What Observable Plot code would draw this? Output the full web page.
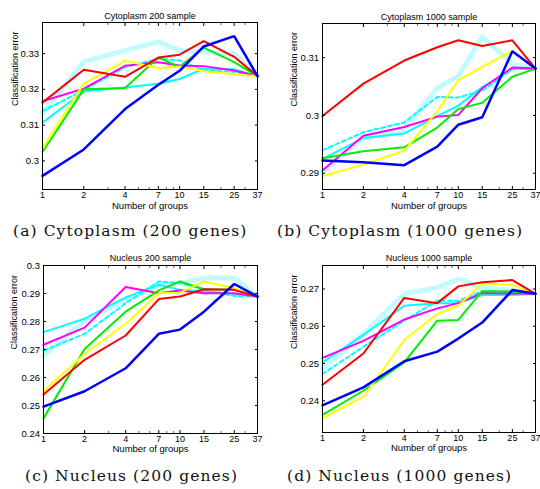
<!DOCTYPE html>
<html>
<head>
<meta charset="utf-8">
<script src="https://cdn.jsdelivr.net/npm/d3@7"></script>
<script src="https://cdn.jsdelivr.net/npm/@observablehq/plot@0.6"></script>
<style>
  html, body { margin: 0; padding: 0; background: #fff; }
  #page { position: relative; width: 540px; height: 489px; overflow: hidden; background: #fff; }
  .panel { position: absolute; }
  .cap { position: absolute; font-family: "DejaVu Serif", "Liberation Serif", serif; font-size: 15.5px; letter-spacing: 1.1px; color: #111; white-space: nowrap; }
</style>
</head>
<body>
<div id="page">
  <div class="panel" id="pa" style="left:0px;top:0px"></div>
  <div class="panel" id="pb" style="left:270px;top:0px"></div>
  <div class="panel" id="pc" style="left:0px;top:240px"></div>
  <div class="panel" id="pd" style="left:270px;top:240px"></div>
  <div class="cap" id="capA" style="left:13px;top:222px"></div>
  <div class="cap" id="capB" style="left:277px;top:222px"></div>
  <div class="cap" id="capC" style="left:25px;top:467px"></div>
  <div class="cap" id="capD" style="left:287px;top:467px"></div>
</div>
<script>
// ---------- data ----------
const groups = [1, 2, 4, 7, 10, 15, 25, 37];
const xTickLabels = ["1", "2", "4", "7", "10", "15", "25", "37"];
const minorTicks = [3, 5, 6, 8, 9, 20, 30];
const yLabel = "Classification error";
const xLabel = "Number of groups";
const panelTitles = ["Cytoplasm 200 sample", "Cytoplasm 1000 sample", "Nucleus 200 sample", "Nucleus 1000 sample"];
const captions = ["(a) Cytoplasm (200 genes)", "(b) Cytoplasm (1000 genes)", "(c) Nucleus (200 genes)", "(d) Nucleus (1000 genes)"];
const seriesNames = ["cyanDot", "cyanDash", "cyan", "magenta", "green", "yellow", "red", "blue"];

// (a) Cytoplasm 200
const cyto200Red     = [0.3163, 0.3255, 0.3235, 0.3289, 0.3297, 0.3335, 0.3291, 0.3237];
const cyto200Green   = [0.3025, 0.3200, 0.3204, 0.3289, 0.3263, 0.3317, 0.3276, 0.3237];
const cyto200Blue    = [0.2958, 0.3032, 0.3145, 0.3213, 0.3252, 0.3320, 0.3349, 0.3237];
const cyto200Yellow  = [0.3035, 0.3216, 0.3280, 0.3260, 0.3263, 0.3251, 0.3242, 0.3237];
const cyto200Magenta = [0.3167, 0.3202, 0.3266, 0.3276, 0.3267, 0.3265, 0.3253, 0.3237];
const cyto200Cyan    = [0.3107, 0.3194, 0.3205, 0.3216, 0.3229, 0.3258, 0.3256, 0.3237];
const cyto200CyanDash= [0.3139, 0.3198, 0.3262, 0.3286, 0.3281, 0.3253, 0.3249, 0.3237];
const cyto200CyanDot = [0.3133, 0.3277, 0.3309, 0.3333, 0.3309, 0.3305, 0.3300, 0.3237];
const cyto200YTicks  = [0.30, 0.31, 0.32, 0.33];

// (b) Cytoplasm 1000
const cyto1000Red     = [0.2999, 0.3055, 0.3095, 0.3118, 0.3130, 0.3120, 0.3130, 0.3081];
const cyto1000Green   = [0.2926, 0.2938, 0.2945, 0.2979, 0.3011, 0.3022, 0.3067, 0.3081];
const cyto1000Blue    = [0.2922, 0.2919, 0.2914, 0.2946, 0.2984, 0.2997, 0.3111, 0.3081];
const cyto1000Yellow  = [0.2895, 0.2915, 0.2939, 0.3007, 0.3061, 0.3084, 0.3111, 0.3081];
const cyto1000Magenta = [0.2905, 0.2965, 0.2980, 0.2998, 0.3001, 0.3047, 0.3083, 0.3081];
const cyto1000Cyan    = [0.2925, 0.2961, 0.2969, 0.2999, 0.3017, 0.3049, 0.3080, 0.3081];
const cyto1000CyanDash= [0.2940, 0.2971, 0.2988, 0.3032, 0.3031, 0.3043, 0.3080, 0.3081];
const cyto1000CyanDot = [0.2902, 0.2962, 0.2976, 0.3047, 0.3068, 0.3136, 0.3089, 0.3081];
const cyto1000YTicks  = [0.29, 0.30, 0.31];

// (c) Nucleus 200
const nuc200Red     = [0.2539, 0.2663, 0.2750, 0.2880, 0.2889, 0.2915, 0.2913, 0.2889];
const nuc200Green   = [0.2454, 0.2702, 0.2835, 0.2911, 0.2943, 0.2915, 0.2913, 0.2889];
const nuc200Blue    = [0.2496, 0.2551, 0.2633, 0.2756, 0.2771, 0.2835, 0.2934, 0.2889];
const nuc200Yellow  = [0.2551, 0.2684, 0.2792, 0.2901, 0.2903, 0.2943, 0.2919, 0.2889];
const nuc200Magenta = [0.2717, 0.2778, 0.2923, 0.2901, 0.2911, 0.2901, 0.2901, 0.2889];
const nuc200Cyan    = [0.2762, 0.2810, 0.2886, 0.2931, 0.2913, 0.2907, 0.2899, 0.2889];
const nuc200CyanDash= [0.2696, 0.2756, 0.2865, 0.2943, 0.2937, 0.2913, 0.2891, 0.2889];
const nuc200CyanDot = [0.2678, 0.2804, 0.2877, 0.2931, 0.2937, 0.2955, 0.2955, 0.2889];
const nuc200YTicks  = [0.24, 0.25, 0.26, 0.27, 0.28, 0.29, 0.30];

// (d) Nucleus 1000
const nuc1000Red     = [0.2443, 0.2527, 0.2676, 0.2662, 0.2707, 0.2718, 0.2724, 0.2687];
const nuc1000Green   = [0.2362, 0.2427, 0.2503, 0.2615, 0.2617, 0.2694, 0.2693, 0.2687];
const nuc1000Blue    = [0.2388, 0.2436, 0.2506, 0.2532, 0.2567, 0.2610, 0.2697, 0.2687];
const nuc1000Yellow  = [0.2353, 0.2411, 0.2563, 0.2633, 0.2655, 0.2715, 0.2711, 0.2687];
const nuc1000Magenta = [0.2515, 0.2561, 0.2618, 0.2648, 0.2662, 0.2689, 0.2688, 0.2687];
const nuc1000Cyan    = [0.2503, 0.2577, 0.2655, 0.2662, 0.2662, 0.2684, 0.2684, 0.2687];
const nuc1000CyanDash= [0.2472, 0.2545, 0.2615, 0.2669, 0.2668, 0.2694, 0.2692, 0.2687];
const nuc1000CyanDot = [0.2485, 0.2579, 0.2687, 0.2704, 0.2727, 0.2703, 0.2697, 0.2687];
const nuc1000YTicks  = [0.24, 0.25, 0.26, 0.27];

// ---------- styles ----------
const seriesStyle = {
  cyanDot:  {stroke: "#22eeff", strokeWidth: 5, strokeDasharray: "1,1.6", strokeOpacity: 0.28},
  cyanDash: {stroke: "#00ffff", strokeWidth: 2, strokeDasharray: "4,3"},
  cyan:     {stroke: "#00ffff", strokeWidth: 2},
  magenta:  {stroke: "#ff00ff", strokeWidth: 2},
  green:    {stroke: "#00ee00", strokeWidth: 2},
  yellow:   {stroke: "#ffff00", strokeWidth: 2},
  red:      {stroke: "#ff0000", strokeWidth: 2},
  blue:     {stroke: "#0000ff", strokeWidth: 2.5}
};

function toRows(series) {
  const rows = [];
  for (const name of seriesNames) {
    series[name].forEach((v, i) => rows.push({name, g: groups[i], v}));
  }
  return rows;
}

function drawPanel(el, cfg) {
  const rows = toRows(cfg.series);
  const lineMarks = seriesNames.map(name =>
    Plot.line(rows.filter(r => r.name === name), {x: "g", y: "v", strokeLinejoin: "miter", ...seriesStyle[name]})
  );
  const fmtY = d => String(+d.toFixed(2));
  const blank = () => "";
  const chart = Plot.plot({
    width: 270,
    height: cfg.height,
    marginTop: cfg.mt, marginBottom: cfg.mb, marginLeft: cfg.ml, marginRight: cfg.mr,
    style: {fontFamily: "'Liberation Sans', Arial, sans-serif", fontSize: "9px", color: "#000", background: "transparent", overflow: "visible"},
    x: {type: "log", domain: [1, 37], label: null},
    y: {domain: cfg.yDomain, label: null},
    marks: [
      ...lineMarks,
      Plot.frame({stroke: "#000", strokeWidth: 1}),
      Plot.axisX(groups, {anchor: "bottom", tickSize: -3, tickFormat: blank, label: null}),
      Plot.axisX(groups, {anchor: "top", tickSize: -3, tickFormat: blank, label: null}),
      Plot.axisX(minorTicks, {anchor: "bottom", tickSize: -2, tickFormat: blank, label: null, stroke: "#666"}),
      Plot.axisX(minorTicks, {anchor: "top", tickSize: -2, tickFormat: blank, label: null, stroke: "#666"}),
      Plot.text(groups, {x: d => d, text: (d, i) => xTickLabels[i], frameAnchor: "bottom", lineAnchor: "top", dy: cfg.tickDy, fontSize: 9}),
      Plot.axisY(cfg.yTicks, {anchor: "left", tickSize: -3, tickPadding: 6.5, tickFormat: fmtY, label: null, fontSize: 9.5}),
      Plot.axisY(cfg.yTicks, {anchor: "right", tickSize: -3, tickFormat: blank, label: null}),
      Plot.text([cfg.title], {text: d => d, frameAnchor: "top", dy: cfg.titleDy, fontSize: 9}),
      Plot.text([xLabel], {text: d => d, frameAnchor: "bottom", dy: cfg.xLabDy, fontSize: 9.5}),
      Plot.text([yLabel], {text: d => d, frameAnchor: "left", dx: cfg.yLabDx, rotate: -90, fontSize: 9})
    ]
  });
  el.appendChild(chart);
}

drawPanel(document.getElementById("pa"), {
  height: 212, mt: 22, mb: 23, ml: 42, mr: 13,
  yDomain: [0.292, 0.3387], yTicks: cyto200YTicks, title: panelTitles[0], titleDy: -10, tickDy: 2.5, xLabDy: 19, yLabDx: -27,
  series: {red: cyto200Red, green: cyto200Green, blue: cyto200Blue, yellow: cyto200Yellow, magenta: cyto200Magenta, cyan: cyto200Cyan, cyanDash: cyto200CyanDash, cyanDot: cyto200CyanDot}
});
drawPanel(document.getElementById("pb"), {
  height: 212, mt: 23, mb: 23, ml: 52, mr: 5,
  yDomain: [0.2872, 0.3159], yTicks: cyto1000YTicks, title: panelTitles[1], titleDy: -10, tickDy: 2.5, xLabDy: 19, yLabDx: -28,
  series: {red: cyto1000Red, green: cyto1000Green, blue: cyto1000Blue, yellow: cyto1000Yellow, magenta: cyto1000Magenta, cyan: cyto1000Cyan, cyanDash: cyto1000CyanDash, cyanDot: cyto1000CyanDot}
});
drawPanel(document.getElementById("pc"), {
  height: 215, mt: 25, mb: 22, ml: 43, mr: 13,
  yDomain: [0.24, 0.30], yTicks: nuc200YTicks, title: panelTitles[2], titleDy: -11, tickDy: 2, xLabDy: 18.5, yLabDx: -29,
  series: {red: nuc200Red, green: nuc200Green, blue: nuc200Blue, yellow: nuc200Yellow, magenta: nuc200Magenta, cyan: nuc200Cyan, cyanDash: nuc200CyanDash, cyanDot: nuc200CyanDot}
});
drawPanel(document.getElementById("pd"), {
  height: 215, mt: 25, mb: 23, ml: 52, mr: 5,
  yDomain: [0.2315, 0.2763], yTicks: nuc1000YTicks, title: panelTitles[3], titleDy: -11, tickDy: 2, xLabDy: 18.5, yLabDx: -28,
  series: {red: nuc1000Red, green: nuc1000Green, blue: nuc1000Blue, yellow: nuc1000Yellow, magenta: nuc1000Magenta, cyan: nuc1000Cyan, cyanDash: nuc1000CyanDash, cyanDot: nuc1000CyanDot}
});

["capA", "capB", "capC", "capD"].forEach((id, i) => { document.getElementById(id).textContent = captions[i]; });
</script>
</body>
</html>
